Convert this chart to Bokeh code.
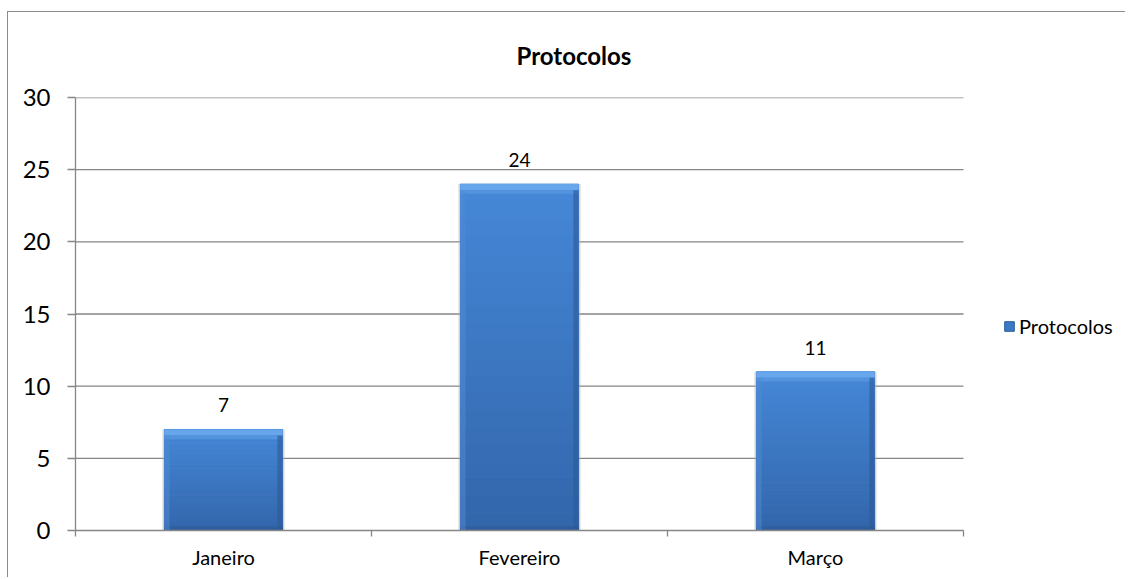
from bokeh.plotting import figure
from bokeh.models import Range1d, FixedTicker, ColumnDataSource, Legend, LegendItem, LabelSet
from bokeh.core.properties import value
from bokeh.embed import file_html
from bokeh.resources import INLINE

categories = ["Janeiro", "Fevereiro", "Março"]
values = [7, 24, 11]
y_ticks = [0, 5, 10, 15, 20, 25, 30]
series_name = "Protocolos"
title_text = "Protocolos"

FONT = "Lato"
GRAY = "#868686"

NCAT = len(categories)
# plot area covers the categories; extra room on the right holds the legend
X_END = NCAT * 1051 / 888

xs = [i + 0.5 for i in range(NCAT)]
src = ColumnDataSource(dict(x=xs, top=values, label=[str(v) for v in values]))

p = figure(width=1118, height=566, output_backend="svg", toolbar_location=None,
           x_range=Range1d(0, X_END), y_range=Range1d(0, 30),
           min_border_left=67, min_border_right=0, min_border_top=85, min_border_bottom=48)
p.styles = {"border-left": "1px solid #8c8c8c", "border-top": "1px solid #8c8c8c",
            "margin-left": "7px", "margin-top": "11px"}
p.outline_line_color = None
p.background_fill_color = "white"
p.border_fill_color = "white"

# title
p.title.text = title_text
p.title.text_font = FONT
p.title.text_font_size = "24px"
p.title.text_font_style = "bold"
p.title.text_color = "black"
p.title.align = "left"
p.title.vertical_align = "top"
p.title.offset = 441
p.title.standoff = 51

# grid (drawn only across the category area)
p.xgrid.visible = False
p.ygrid.visible = False
gy = [t for t in y_ticks if t > 0]
p.segment(x0=[0] * len(gy), x1=[NCAT] * len(gy), y0=gy, y1=gy, line_color=GRAY, line_width=1.3)

# y axis
ya = p.yaxis[0]
ya.ticker = FixedTicker(ticks=y_ticks)
ya.axis_line_color = GRAY
ya.axis_line_width = 1.3
ya.major_tick_line_color = GRAY
ya.major_tick_line_width = 1.3
ya.major_tick_in = 0
ya.major_tick_out = 8
ya.minor_tick_line_color = None
ya.major_label_text_font = FONT
ya.major_label_text_font_size = "24px"
ya.major_label_text_color = "black"
ya.major_label_standoff = 17

# x axis
xa = p.xaxis[0]
xa.bounds = (0, NCAT)
xa.ticker = FixedTicker(ticks=xs, minor_ticks=list(range(NCAT + 1)))
xa.major_label_overrides = {x: c for x, c in zip(xs, categories)}
xa.axis_line_color = GRAY
xa.axis_line_width = 1.3
xa.major_tick_line_color = None
xa.minor_tick_line_color = GRAY
xa.minor_tick_line_width = 1.3
xa.minor_tick_in = 0
xa.minor_tick_out = 6
xa.major_label_text_font = FONT
xa.major_label_text_font_size = "20px"
xa.major_label_text_color = "black"
xa.major_label_standoff = 8

BW = 0.4
# soft shadow
p.vbar(x="x", top="top", width=BW + 0.016, source=src, fill_color="#b8b8b8", line_color=None,
       fill_alpha=0.3)

# vertical gradient bands inside each bar
N = 20
c_bot = (0x33, 0x66, 0xab)
c_top = (0x45, 0x87, 0xd7)
bx, bb, bt, bc = [], [], [], []
for x, v in zip(xs, values):
    for k in range(N):
        f = (k + 0.5) / N
        col = tuple(int(round(c_bot[i] + (c_top[i] - c_bot[i]) * f)) for i in range(3))
        bx.append(x)
        bb.append(v * k / N)
        bt.append(v * (k + 1) / N)
        bc.append("#%02x%02x%02x" % col)
band_src = ColumnDataSource(dict(x=bx, bottom=bb, top=bt, color=bc))
p.vbar(x="x", top="top", bottom="bottom", width=BW, source=band_src, fill_color="color",
       line_color="color", line_width=1)

# bevel: top highlight, bottom shade, side edges
bev = 0.42
top_src = ColumnDataSource(dict(x=xs, top=values, bottom=[v - bev for v in values]))
p.vbar(x="x", top="top", bottom="bottom", width=BW, source=top_src, fill_color="#68a6ec",
       line_color=None)
top2_src = ColumnDataSource(dict(x=xs, top=[v - bev for v in values], bottom=[v - bev * 1.6 for v in values]))
p.vbar(x="x", top="top", bottom="bottom", width=BW, source=top2_src, fill_color="#5493de",
       line_color=None)
bot_src = ColumnDataSource(dict(x=xs, top=[bev * 0.7] * NCAT))
p.vbar(x="x", top="top", bottom=0, width=BW, source=bot_src, fill_color="#2f5e9e",
       line_color=None)
side_w = 0.018
ls_src = ColumnDataSource(dict(x=[x - BW / 2 + side_w / 2 for x in xs], top=[v - bev for v in values]))
p.vbar(x="x", top="top", bottom=0, width=side_w, source=ls_src, fill_color="#4f8cd6",
       fill_alpha=0.5, line_color=None)
rs_src = ColumnDataSource(dict(x=[x + BW / 2 - side_w / 2 for x in xs], top=[v - bev for v in values]))
p.vbar(x="x", top="top", bottom=0, width=side_w, source=rs_src, fill_color="#2c5a96",
       fill_alpha=0.6, line_color=None)

labels = LabelSet(x="x", y="top", text="label", source=src, text_align="center",
                  text_baseline="bottom", y_offset=17, text_font=value(FONT),
                  text_font_size="19px", text_color="black")
p.add_layout(labels)

# legend swatch: a bar glyph (not drawn in the plot itself)
leg_glyph = p.vbar(x="x", top="top", width=BW, source=src, fill_color="#3b78c6",
                   line_color="#2c5c99", visible=False)
legend = Legend(items=[LegendItem(label=series_name, renderers=[leg_glyph])],
                location=(928, 192), border_line_color=None, background_fill_alpha=0,
                label_text_font=FONT, label_text_font_size="20px", label_text_color="black",
                glyph_width=12, glyph_height=12, label_standoff=4, padding=0, margin=0)
p.add_layout(legend, "center")

open("out.html", "w").write(file_html(p, INLINE))
